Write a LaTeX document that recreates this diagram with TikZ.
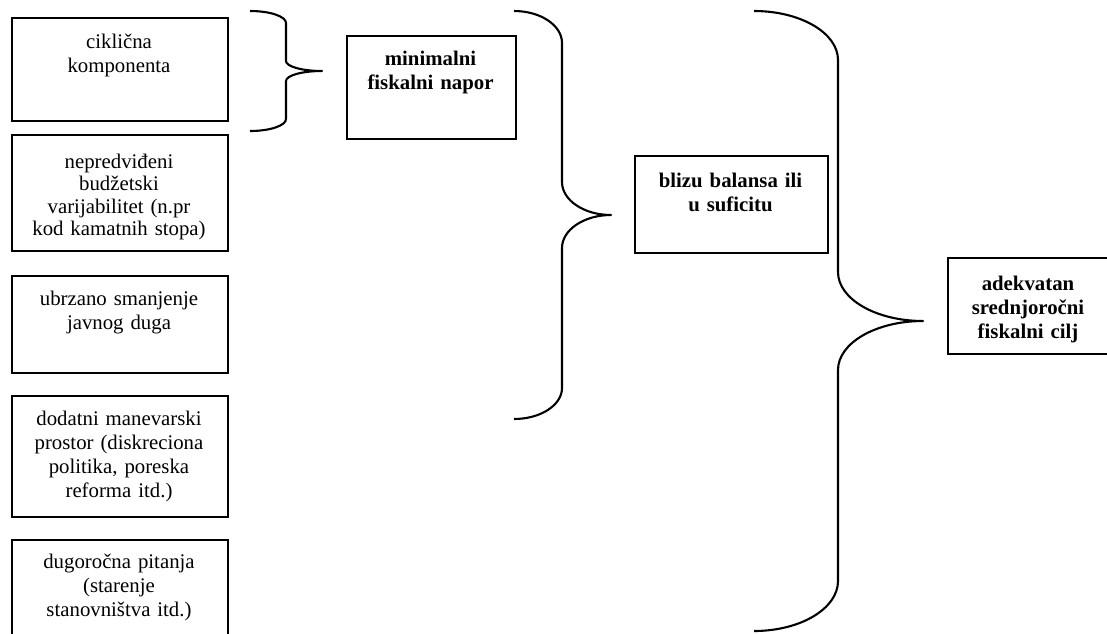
\documentclass[tikz,border=0pt]{standalone}
\usepackage{fontspec}
\setmainfont{Liberation Serif}
\begin{document}
\begin{tikzpicture}[x=0.5pt,y=-0.5pt,
  box/.style={draw, line width=1.05pt, inner sep=0pt, anchor=north west},
  txt/.style={inner sep=0pt, anchor=base, align=center, text width=104pt,
    font=\fontsize{10.4}{12.1}\selectfont},
  btxt/.style={txt, font=\fontsize{10.4}{12.1}\selectfont\bfseries},
  brace/.style={line width=1.05pt, line join=round}]
\useasboundingbox (0,0) rectangle (1107,633);
\clip (0,0) rectangle (1107,633);
% left boxes
\node[box, minimum width=108pt, minimum height=51.5pt] (b1) at (11,17) {};
\node[box, minimum width=108pt, minimum height=58pt] (b2) at (11,134) {};
\node[box, minimum width=108pt, minimum height=48.5pt] (b3) at (11,275) {};
\node[box, minimum width=108pt, minimum height=60.5pt] (b4) at (11,395) {};
\node[box, minimum width=108pt, minimum height=70pt] (b5) at (11,539) {};
\node[txt] (t1) at (119,48) {ciklična\\komponenta};
\node[txt, font=\fontsize{10.4}{11.3}\selectfont] (t2) at (119,168) {nepredviđeni\\budžetski\\varijabilitet (n.pr\\kod kamatnih stopa)};
\node[txt] (t3) at (119,305) {ubrzano smanjenje\\javnog duga};
\node[txt] (t4) at (119,425) {dodatni manevarski\\prostor (diskreciona\\politika, poreska\\reforma itd.)};
\node[txt] (t5) at (119,568) {dugoročna pitanja\\(starenje\\stanovništva itd.)};
% middle / right boxes
\node[box, minimum width=84.5pt, minimum height=51.5pt] (bm) at (346,35) {};
\node[btxt, text width=82pt] (tm) at (430.5,65) {minimalni\\fiskalni napor};
\node[box, minimum width=96.5pt, minimum height=48.5pt] (bb) at (634,155) {};
\node[btxt, text width=94pt] (tb) at (730.5,187) {blizu balansa ili\\u suficitu};
\node[box, minimum width=82pt, minimum height=48pt] (ba) at (947,257) {};
\node[btxt, text width=78pt] (ta) at (1028,290) {adekvatan\\srednjoročni\\fiskalni cilj};
% braces
\draw[brace] (250,11) .. controls (270,11) and (286,16.4) .. (286,23) -- (286,61)
  .. controls (286,66.5) and (302,71) .. (322,71)
  .. controls (302,71) and (286,75.5) .. (286,81) -- (286,119)
  .. controls (286,125.6) and (270,131) .. (250,131);
\draw[brace] (514,11) .. controls (540.5,11) and (562,25.3) .. (562,43) -- (562,182)
  .. controls (562,200.2) and (584,215) .. (611,215)
  .. controls (584,215) and (562,229.8) .. (562,248) -- (562,388)
  .. controls (562,405.1) and (540.5,419) .. (514,419);
\draw[brace] (754,11) .. controls (800.4,11) and (838,32.9) .. (838,60) -- (838,272)
  .. controls (838,299.1) and (876.1,321) .. (923,321)
  .. controls (876.1,321) and (838,342.9) .. (838,370) -- (838,581)
  .. controls (838,608.6) and (800.4,631) .. (754,631);
\end{tikzpicture}
\end{document}
